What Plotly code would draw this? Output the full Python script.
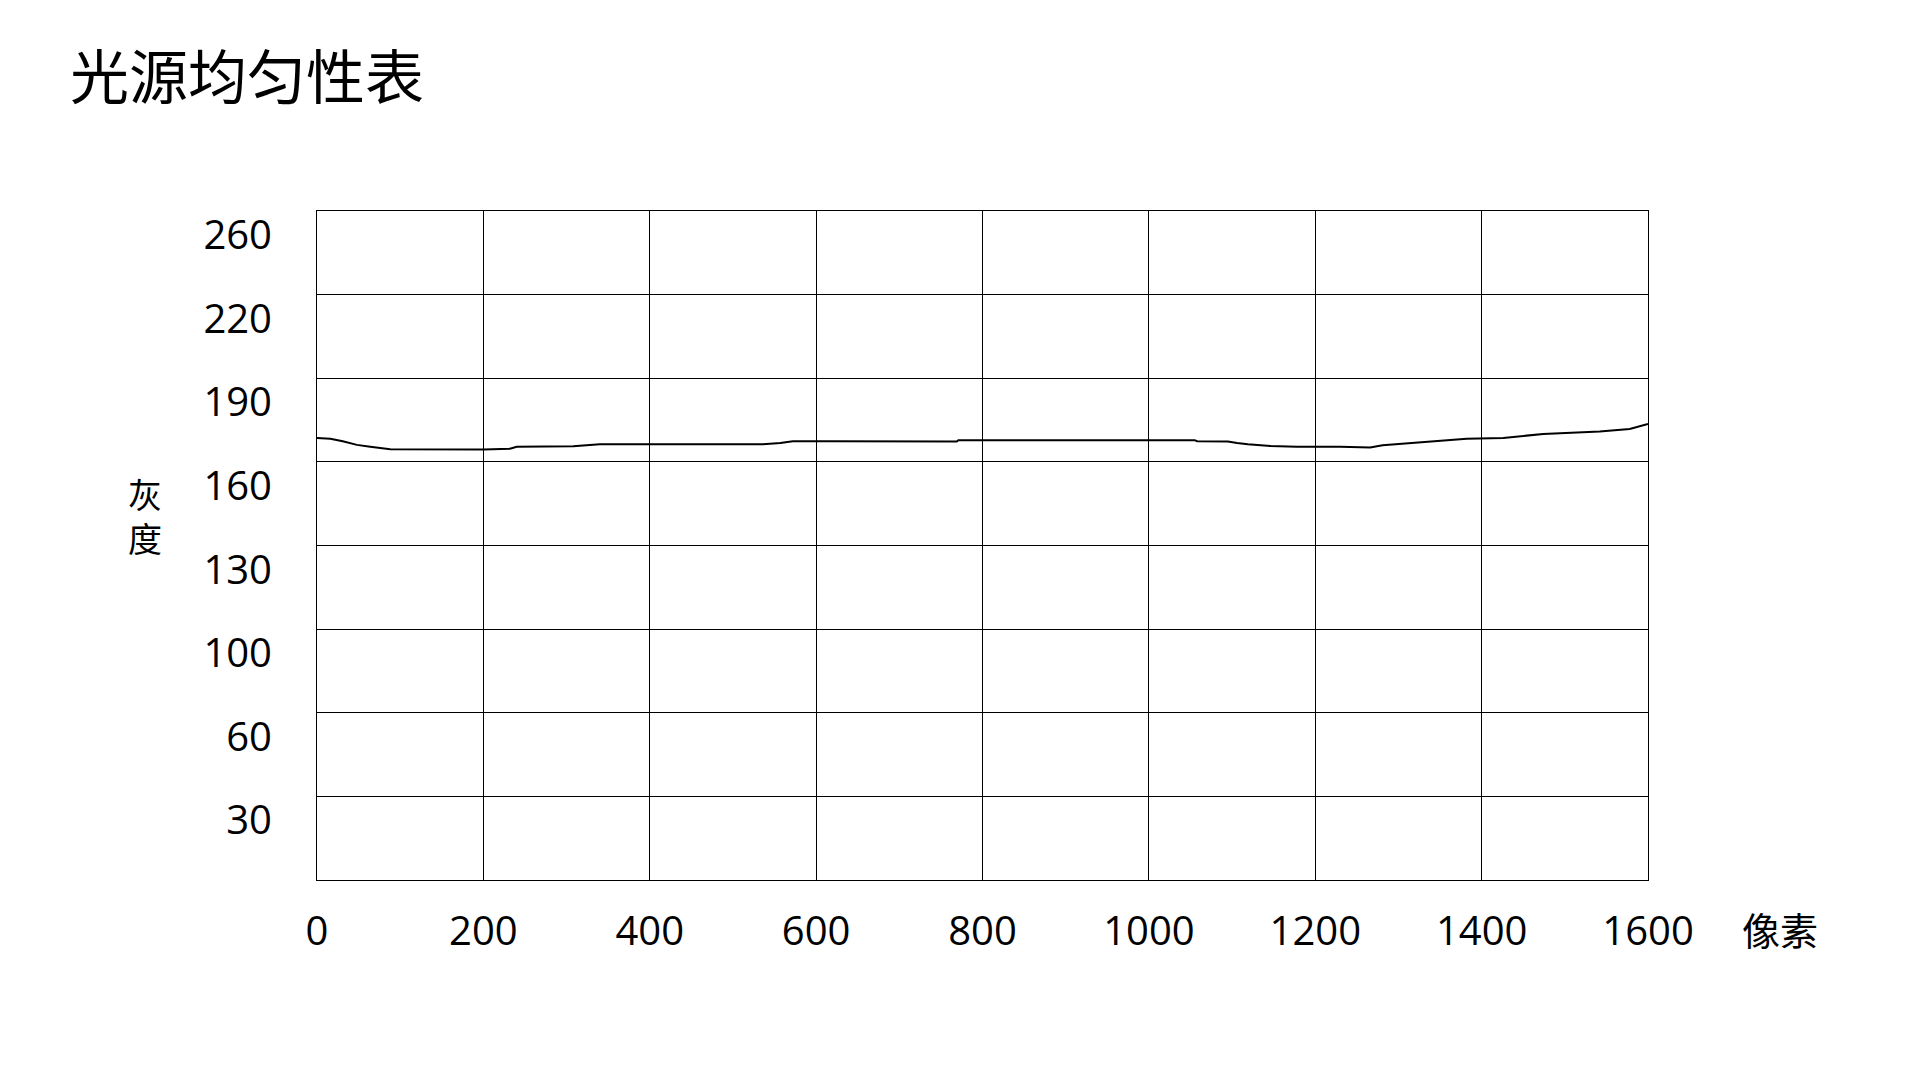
import numpy as np
import plotly.graph_objects as go

# 像素位置 / 灰度值
pixel_x = [0, 16, 31, 48, 64, 88, 200, 232, 240, 308, 340, 400, 536, 557, 572,
           617, 769, 771, 1055, 1058, 1095, 1106, 1119, 1146, 1178, 1230, 1266,
           1281, 1338, 1382, 1426, 1474, 1542, 1578, 1600]
gray = [168.6, 168.3, 167.4, 166.1, 165.4, 164.5, 164.4, 164.7, 165.4, 165.6,
        166.3, 166.3, 166.3, 166.8, 167.4, 167.4, 167.3, 167.8, 167.8, 167.4,
        167.3, 166.8, 166.3, 165.7, 165.4, 165.4, 165.2, 166.0, 167.4, 168.3,
        168.6, 170.0, 170.9, 171.8, 173.6]

# the gray axis is banded: each labelled level sits on an evenly spaced gridline
gray_levels = [0, 30, 60, 100, 130, 160, 190, 220, 260]
gray_labels = ["", "30", "60", "100", "130", "160", "190", "220", "260"]
x_ticks = [0, 200, 400, 600, 800, 1000, 1200, 1400, 1600]

band_pos = list(range(len(gray_levels)))
y_pos = np.interp(gray, gray_levels, band_pos)

# page body has an 8px margin, so work in figure pixels = screen pixels - 8
OFF = 8
W, H = 1920 - 2 * OFF, 1080 - 2 * OFF
L, R, T, B = 317 - OFF, 1648 - OFF, 211 - OFF, 880 - OFF
digits = "Open Sans, Liberation Sans, sans-serif"
cjk = "Noto Sans CJK SC"

fig = go.Figure()
fig.add_trace(go.Scatter(
    x=pixel_x, y=y_pos, mode="lines",
    line=dict(color="black", width=2),
    showlegend=False, hoverinfo="skip",
))


def px_x(p):
    return (p - OFF - L) / (R - L)


def px_y(p):
    return (B - (p - OFF)) / (B - T)


def label(text, x, y, size):
    return dict(text=text, x=px_x(x), y=px_y(y), xref="paper", yref="paper",
                xanchor="center", yanchor="middle", showarrow=False,
                font=dict(family=cjk, size=size, color="black"))


fig.update_layout(
    width=W, height=H,
    margin=dict(l=L, r=W - R, t=T, b=H - B),
    paper_bgcolor="white", plot_bgcolor="white",
    title=dict(text="光源均匀性表", x=(70 - OFF) / W, xanchor="left",
               y=1 - (78 - OFF) / H, yanchor="middle", yref="container",
               font=dict(family=cjk, size=59, color="black")),
    xaxis=dict(
        range=[0, 1600], tickvals=x_ticks,
        showgrid=True, gridcolor="black", gridwidth=1,
        showline=True, linecolor="black", linewidth=1, mirror=True,
        zeroline=False, ticks="",
        ticklabelstandoff=16,
        tickfont=dict(family=digits, size=40, color="black"),
    ),
    yaxis=dict(
        range=[0, 8], tickvals=band_pos, ticktext=gray_labels,
        showgrid=True, gridcolor="black", gridwidth=1,
        showline=True, linecolor="black", linewidth=1, mirror=True,
        zeroline=False, ticks="",
        ticklabelstandoff=36, ticklabelshift=24,
        tickfont=dict(family=digits, size=40, color="black"),
    ),
    annotations=[
        label("灰<br>度", 145, 515, 34),
        label("像素", 1780, 928, 38),
    ],
)

fig.write_html("out.html")
